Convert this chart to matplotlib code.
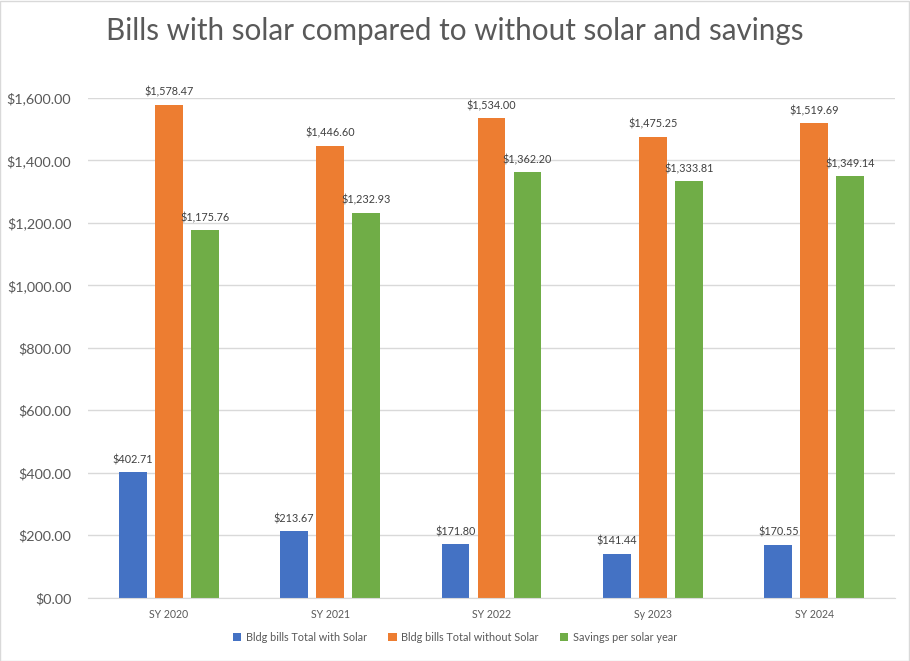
import matplotlib.pyplot as plt
import numpy as np
from matplotlib.patches import Rectangle

plt.rcParams['font.family'] = ['Lato', 'DejaVu Sans']

# chart data
years = ['SY 2020', 'SY 2021', 'SY 2022', 'Sy 2023', 'SY 2024']
with_solar = [402.71, 213.67, 171.80, 141.44, 170.55]
without_solar = [1578.47, 1446.60, 1534.00, 1475.25, 1519.69]
savings = [1175.76, 1232.93, 1362.20, 1333.81, 1349.14]
series_names = ['Bldg bills Total with Solar', 'Bldg bills Total without Solar',
                'Savings per solar year']
colors = ['#4472C4', '#ED7D31', '#70AD47']

fig = plt.figure(figsize=(9.1, 6.61), dpi=100)
ax = fig.add_axes([0.0967, 0.0953, 0.8868, 0.7567])
fig.patches.append(Rectangle((0.0005, 0.0005), 0.998, 0.998, transform=fig.transFigure,
                             fill=False, edgecolor='#d9d9d9', linewidth=1))

x = np.arange(len(years))
width = 0.173
step = 0.223
for i, (vals, name, c) in enumerate(zip([with_solar, without_solar, savings], series_names, colors)):
    bars = ax.bar(x + (i - 1) * step, vals, width, color=c, label=name)
    ax.bar_label(bars, labels=['${:,.2f}'.format(v) for v in vals], padding=5,
                 fontsize=7.8, color='#404040')

ax.set_xlim(-0.5, len(years) - 0.5)
ax.set_ylim(0, 1600)
ax.set_yticks(np.arange(0, 1601, 200))
ax.yaxis.set_major_formatter(lambda v, p: '${:,.2f}'.format(v))
ax.set_xticks(x)
ax.set_xticklabels(years)
ax.tick_params(axis='y', length=0, labelsize=10.4, labelcolor='#595959', pad=12)
ax.tick_params(axis='x', length=0, labelsize=7.6, labelcolor='#595959', pad=8)
ax.grid(axis='y', color='#d9d9d9', linewidth=1)
ax.set_axisbelow(True)
for s in ['top', 'right', 'left']:
    ax.spines[s].set_visible(False)
ax.spines['bottom'].set_color('#d9d9d9')

fig.text(0.5, 0.953, 'Bills with solar compared to without solar and savings',
         ha='center', va='center', fontsize=21.3, color='#595959')

fig.legend(loc='center', bbox_to_anchor=(0.5, 0.036), ncol=3, frameon=False,
           fontsize=7.8, handlelength=0.75, handleheight=0.75, columnspacing=2.0,
           handletextpad=0.4, labelcolor='#595959')

fig.savefig('out.png', dpi=100)
